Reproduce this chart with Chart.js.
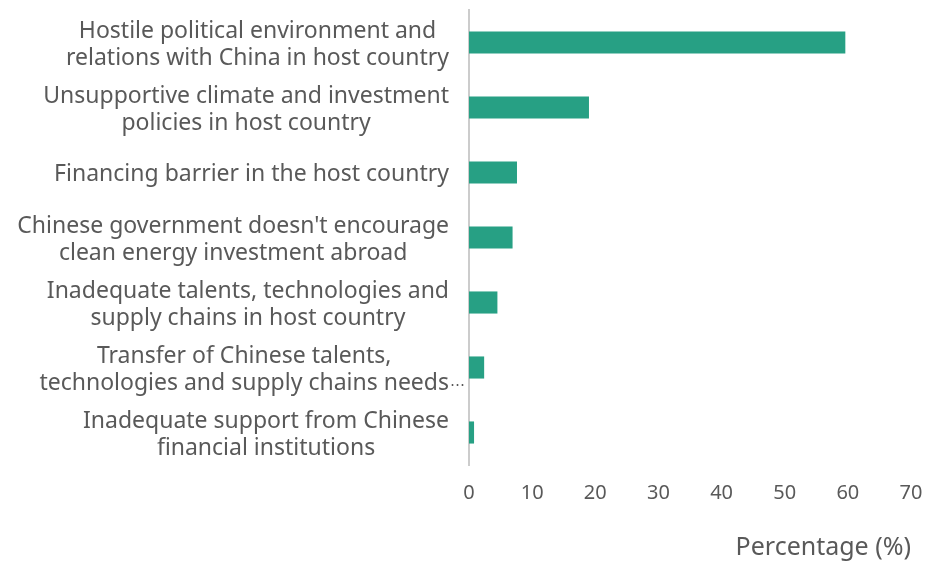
<!DOCTYPE html>
<html>
<head>
    <title>Obstacles to clean energy investment abroad</title>
    <script src="https://cdn.jsdelivr.net/npm/chart.js"></script>
    <style>
        body { margin: 0; background: #fff; }
    </style>
</head>
<body>
    <canvas id="obstacleChart" width="930" height="564"></canvas>
    <script>
        const categories = [
            ['Hostile political environment and', 'relations with China in host country'],
            ['Unsupportive climate and investment', 'policies in host country'],
            ['Financing barrier in the host country'],
            ['Chinese government doesn\'t encourage', 'clean energy investment abroad'],
            ['Inadequate talents, technologies and', 'supply chains in host country'],
            ['Transfer of Chinese talents,', 'technologies and supply chains needs\u22ef'],
            ['Inadequate support from Chinese', 'financial institutions']
        ];
        const percentages = [59.6, 19.0, 7.6, 6.9, 4.5, 2.4, 0.8];
        const xTicks = [0, 10, 20, 30, 40, 50, 60, 70];

        const textColor = '#595959';
        const fontFamily = '"Noto Sans"';
        const labelFont = '23px ' + fontFamily;
        const ellipsisFont = '15px ' + fontFamily;

        // category labels: block right aligned to the axis, lines centred inside the block;
        // a trailing ellipsis is drawn small and hangs past the block edge
        const categoryLabels = {
            id: 'categoryLabels',
            afterDraw(chart) {
                const ctx = chart.ctx;
                const y = chart.scales.y;
                const right = chart.chartArea.left - 20;
                const lineHeight = 27;
                ctx.save();
                ctx.font = labelFont;
                ctx.fillStyle = textColor;
                ctx.textAlign = 'left';
                ctx.textBaseline = 'middle';
                categories.forEach((lines, i) => {
                    const core = lines.map(l => l.replace(/\u22ef$/, ''));
                    const w = Math.max(...core.map(l => ctx.measureText(l).width));
                    const cx = right - w / 2;
                    const cy = y.getPixelForValue(i) + 2;
                    lines.forEach((line, j) => {
                        const lw = ctx.measureText(core[j]).width;
                        const ly = cy + (j - (lines.length - 1) / 2) * lineHeight;
                        ctx.fillText(core[j], cx - lw / 2, ly);
                        if (core[j] !== line) {
                            ctx.font = ellipsisFont;
                            ctx.fillText('\u22ef', cx + lw / 2 + 1, ly + 2);
                            ctx.font = labelFont;
                        }
                    });
                });
                ctx.restore();
            }
        };

        const ctx = document.getElementById('obstacleChart').getContext('2d');
        new Chart(ctx, {
            type: 'bar',
            data: {
                labels: categories.map(c => c.join(' ')),
                datasets: [{
                    data: percentages,
                    backgroundColor: '#27a084',
                    borderWidth: 0,
                    barPercentage: 0.68,
                    categoryPercentage: 0.5
                }]
            },
            options: {
                indexAxis: 'y',
                responsive: false,
                animation: false,
                layout: { padding: { top: 10, right: 0, bottom: 0, left: 0 } },
                plugins: {
                    legend: { display: false },
                    tooltip: { enabled: false }
                },
                scales: {
                    x: {
                        min: 0,
                        max: 70,
                        afterBuildTicks: scale => {
                            scale.ticks = xTicks.map(v => ({ value: v }));
                        },
                        // keep only the room the last tick label needs on the right
                        afterFit: scale => {
                            scale.paddingRight = 19;
                        },
                        grid: { display: false, drawTicks: false },
                        border: { display: false },
                        ticks: {
                            color: textColor,
                            font: { family: fontFamily, size: 20 },
                            padding: 16
                        },
                        title: {
                            display: true,
                            text: 'Percentage (%)',
                            align: 'end',
                            color: textColor,
                            font: { family: fontFamily, size: 25 },
                            padding: { top: 12, bottom: 1 }
                        }
                    },
                    y: {
                        grid: { display: false, drawTicks: false },
                        border: { display: true, color: '#cccccc', width: 2 },
                        ticks: { display: false },
                        afterFit: scale => { scale.width = 469; }
                    }
                }
            },
            plugins: [categoryLabels]
        });
    </script>
</body>
</html>
